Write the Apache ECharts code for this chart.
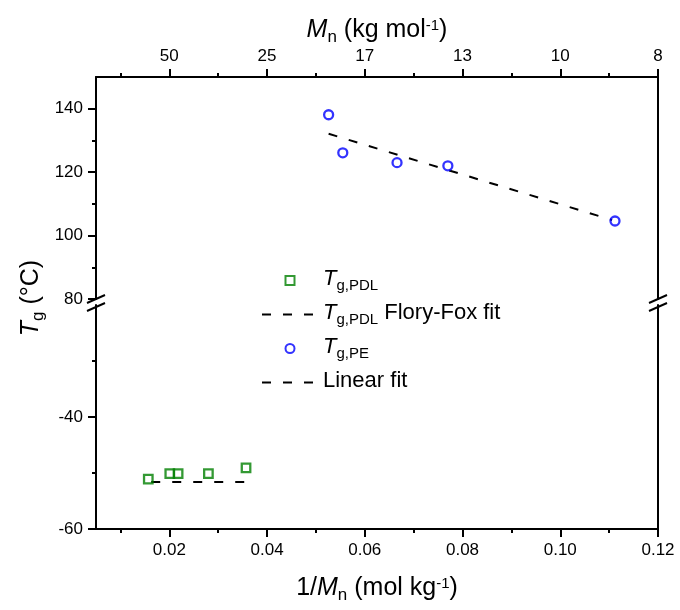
<!DOCTYPE html>
<html><head><meta charset="utf-8">
<script src="https://cdn.jsdelivr.net/npm/echarts@6/dist/echarts.min.js"></script>
<style>html,body{margin:0;padding:0;background:#fff}#c{width:680px;height:610px}</style>
</head><body><div id="c"></div>
<script>
// ---- data ----
const xMajorTicks = [0.02, 0.04, 0.06, 0.08, 0.10, 0.12];
const xMinorTicks = [0.01, 0.03, 0.05, 0.07, 0.09, 0.11];
const xTickLabels = ['0.02', '0.04', '0.06', '0.08', '0.10', '0.12'];
const topTickLabels = ['50', '25', '17', '13', '10', '8'];
const yTopTicks = [80, 100, 120, 140];
const yTopMinor = [90, 110, 130];
const yBottomTicks = [-60, -40];
const yBottomMinor = [-50, -30];

const pdlX = [0.0157, 0.0201, 0.0218, 0.0280, 0.0357];
const pdlY = [-51.1, -50.1, -50.1, -50.1, -49.1];
const pdlFitX = [0.0163, 0.0358];
const pdlFitY = [-51.6, -51.6];
const peX = [0.0526, 0.0555, 0.0666, 0.0770, 0.1112];
const peY = [138.1, 126.1, 123.0, 122.0, 104.6];
const peFitX = [0.0526, 0.1106];
const peFitY = [132.1, 104.9];

const legendNames = ['PDL', 'PDLFit', 'PE', 'LinFit'];
const legendLabels = {
  PDL: '{i|T}{s|g,PDL}',
  PDLFit: '{i|T}{s|g,PDL}{m| Flory-Fox fit}',
  PE: '{i|T}{s|g,PE}',
  LinFit: '{m|Linear fit}{s| }'
};

// ---- styles ----
const FONT = "'Liberation Sans', Arial, sans-serif";
function makeRich(main, sub, sup, lh, pad) {
  return {
    m: {fontFamily: FONT, fontSize: main, color: '#000', lineHeight: lh, verticalAlign: 'top'},
    i: {fontFamily: FONT, fontSize: main, color: '#000', fontStyle: 'italic', lineHeight: lh, verticalAlign: 'top'},
    s: {fontFamily: FONT, fontSize: sub, color: '#000', lineHeight: sub, verticalAlign: 'bottom', padding: [pad, 0, 0, 0]},
    p: {fontFamily: FONT, fontSize: sup, color: '#000', lineHeight: sup, verticalAlign: 'top'}
  };
}
const richAxis = makeRich(25, 17, 15, 28, 15);
const richLeg = makeRich(22, 15, 13, 25, 13);

const pair = (xs, ys) => xs.map((x, i) => [x, ys[i]]);
const idxOf = (arr, v) => arr.findIndex(a => Math.abs(a - v) < 1e-9);
const labelStyle = {fontFamily: FONT, fontSize: 17, color: '#000'};
const lineBlack = {color: '#000', width: 2};

function xAxisMain(grid, pos, labels, name, gap) {
  return {
    gridIndex: grid, type: 'value', position: pos, min: 0.005, max: 0.12,
    axisLine: {show: true, onZero: false, lineStyle: lineBlack},
    axisTick: {show: true, inside: false, length: 8, lineStyle: lineBlack, customValues: xMajorTicks},
    axisLabel: Object.assign({customValues: xMajorTicks, margin: pos === 'top' ? 12 : 13,
      formatter: v => labels[idxOf(xMajorTicks, v)] || ''}, labelStyle),
    splitLine: {show: false},
    name: name, nameLocation: 'middle', nameGap: gap, nameTextStyle: {rich: richAxis}
  };
}
function xAxisMinor(grid, pos) {
  return {
    gridIndex: grid, type: 'value', position: pos, min: 0.005, max: 0.12,
    axisLine: {show: false},
    axisTick: {show: true, inside: false, length: 4, lineStyle: lineBlack, customValues: xMinorTicks},
    axisLabel: {show: false}, splitLine: {show: false}
  };
}
function yAxisMain(grid, min, max, ticks) {
  return {
    gridIndex: grid, type: 'value', position: 'left', min: min, max: max,
    axisLine: {show: true, onZero: false, lineStyle: lineBlack},
    axisTick: {show: true, inside: false, length: 8, lineStyle: lineBlack, customValues: ticks},
    axisLabel: Object.assign({customValues: ticks, margin: 13}, labelStyle),
    splitLine: {show: false}
  };
}
function yAxisMinor(grid, min, max, ticks) {
  return {
    gridIndex: grid, type: 'value', position: 'left', min: min, max: max,
    axisLine: {show: false},
    axisTick: {show: true, inside: false, length: 4, lineStyle: lineBlack, customValues: ticks},
    axisLabel: {show: false}, splitLine: {show: false}
  };
}
function yAxisRight(grid, min, max) {
  return {
    gridIndex: grid, type: 'value', position: 'right', min: min, max: max,
    axisLine: {show: true, onZero: false, lineStyle: lineBlack},
    axisTick: {show: false}, axisLabel: {show: false}, splitLine: {show: false}
  };
}

const option = {
  backgroundColor: '#fff',
  animation: false,
  grid: [
    {left: 96, right: 22, top: 77, height: 222},
    {left: 96, right: 22, top: 305, height: 224}
  ],
  xAxis: [
    xAxisMain(0, 'top', topTickLabels, '{i|M}{s|n}{m| (kg mol}{p|-1}{m|)}', 31),
    xAxisMinor(0, 'top'),
    xAxisMain(1, 'bottom', xTickLabels, '{m|1/}{i|M}{s|n}{m| (mol kg}{p|-1}{m|)}', 47),
    xAxisMinor(1, 'bottom')
  ],
  yAxis: [
    yAxisMain(0, 80, 150, yTopTicks),
    yAxisMinor(0, 80, 150, yTopMinor),
    yAxisRight(0, 80, 150),
    yAxisMain(1, -60, -20, yBottomTicks),
    yAxisMinor(1, -60, -20, yBottomMinor),
    yAxisRight(1, -60, -20)
  ],
  legend: {
    orient: 'vertical', left: 256, top: 260, itemWidth: 56, itemHeight: 9, itemGap: 6,
    selectedMode: false, symbolKeepAspect: true,
    data: [
      {name: 'PDL', icon: 'path://M0 0H10V10H0Z'},
      {name: 'PDLFit', itemStyle: {opacity: 0}},
      {name: 'PE'},
      {name: 'LinFit', itemStyle: {opacity: 0}}
    ],
    formatter: n => legendLabels[n],
    textStyle: {rich: richLeg}
  },
  series: [
    {type: 'line', name: 'PDLFit', xAxisIndex: 2, yAxisIndex: 3, data: pair(pdlFitX, pdlFitY),
      symbol: 'none', lineStyle: {color: '#000', width: 2, type: [9, 12]}, itemStyle: {color: '#000'}, z: 2},
    {type: 'scatter', name: 'PDL', xAxisIndex: 2, yAxisIndex: 3, data: pair(pdlX, pdlY),
      symbol: 'rect', symbolSize: 8.5, symbolKeepAspect: true,
      itemStyle: {color: 'rgba(255,255,255,0)', borderColor: '#008000', borderWidth: 2.3}, z: 3},
    {type: 'line', name: 'LinFit', xAxisIndex: 0, yAxisIndex: 0, data: pair(peFitX, peFitY),
      symbol: 'none', lineStyle: {color: '#000', width: 2, type: [9, 12]}, itemStyle: {color: '#000'}, z: 2},
    {type: 'scatter', name: 'PE', xAxisIndex: 0, yAxisIndex: 0, data: pair(peX, peY),
      symbol: 'circle', symbolSize: 9,
      itemStyle: {color: 'rgba(255,255,255,0)', borderColor: '#0000ff', borderWidth: 2.3}, z: 3}
  ]
};

const chart = echarts.init(document.getElementById('c'));
chart.setOption(option);

// axis-break marks and y-axis title, positioned from the axes
const pTopL = chart.convertToPixel({seriesIndex: 3}, [0.005, 80]);
const pTopR = chart.convertToPixel({seriesIndex: 3}, [0.12, 80]);
const pBotL = chart.convertToPixel({seriesIndex: 1}, [0.005, -20]);
const pBotR = chart.convertToPixel({seriesIndex: 1}, [0.12, -20]);
const pTop = chart.convertToPixel({seriesIndex: 3}, [0.005, 150]);
const pBot = chart.convertToPixel({seriesIndex: 1}, [0.005, -60]);
function slash(p, dy) {
  return {type: 'line', silent: true, z: 10,
    shape: {x1: p[0] - 9, y1: p[1] + dy + 4, x2: p[0] + 9, y2: p[1] + dy - 4},
    style: {stroke: '#000', lineWidth: 2}};
}
chart.setOption({
  graphic: [
    slash(pTopL, 0), slash(pBotL, 2), slash(pTopR, 0), slash(pBotR, 2),
    {type: 'text', x: 33, y: (pTop[1] + pBot[1]) / 2 - 5, rotation: Math.PI / 2,
      style: {text: '{i|T}{s|g}{m| (°C)}', rich: richAxis, align: 'center', verticalAlign: 'middle'}}
  ]
});
</script>
</body></html>
